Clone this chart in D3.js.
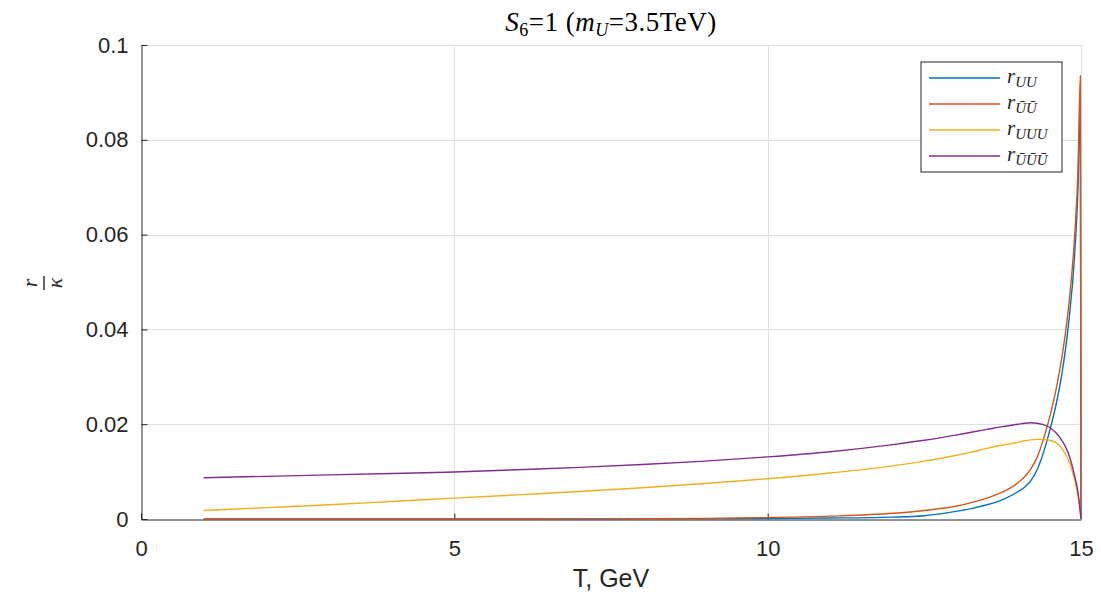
<!DOCTYPE html>
<html>
<head>
<meta charset="utf-8">
<script src="https://cdn.jsdelivr.net/npm/d3@7"></script>
<style>
  body { margin: 0; background: #fff; }
  svg { display: block; }
</style>
</head>
<body>
<div id="chart"></div>
<script>
// Layout
const width = 1101;
const height = 598;
const margin = { top: 45, right: 20, bottom: 79, left: 141 };

// Data
const temps = [1, 2, 3, 4, 5, 6, 7, 8, 9, 10, 11, 12, 12.5, 13, 13.25, 13.5, 13.75, 14, 14.1, 14.2, 14.3, 14.4, 14.5, 14.6, 14.7, 14.8, 14.9, 14.95, 14.99, 15];
const rUU = [0, 0, 0, 0, 0, 0, 0.00001, 0.00002, 0.00004, 0.0001, 0.0002, 0.0004, 0.0007, 0.0016, 0.0022, 0.0030, 0.0041, 0.0058, 0.0067, 0.0081, 0.0104, 0.0140, 0.0186, 0.0240, 0.0310, 0.0410, 0.0560, 0.0690, 0.088, 0];
const rUbUb = [0, 0, 0, 0, 0, 0.00001, 0.00002, 0.00004, 0.0001, 0.0003, 0.0006, 0.0012, 0.0018, 0.0027, 0.00345, 0.0044, 0.0057, 0.0077, 0.0089, 0.0106, 0.0130, 0.0168, 0.0215, 0.0272, 0.0345, 0.0445, 0.060, 0.073, 0.0935, 0];
const rUUU = [0.0018, 0.0024, 0.0030, 0.0037, 0.0044, 0.0051, 0.0058, 0.0066, 0.0075, 0.0085, 0.0097, 0.0112, 0.0122, 0.0134, 0.0141, 0.0149, 0.0156, 0.0162, 0.0165, 0.0167, 0.0168, 0.0168, 0.0166, 0.0161, 0.0148, 0.0124, 0.0082, 0.0050, 0.0012, 0];
const rUbUbUb = [0.0087, 0.0090, 0.0093, 0.0096, 0.0099, 0.0104, 0.0109, 0.0115, 0.0122, 0.0131, 0.0142, 0.0157, 0.0166, 0.0177, 0.0183, 0.0189, 0.0195, 0.0200, 0.0202, 0.0203, 0.0202, 0.0199, 0.0193, 0.0182, 0.0165, 0.0138, 0.0090, 0.0058, 0.0013, 0];
const xTicks = [0, 5, 10, 15];
const yTicks = [0, 0.02, 0.04, 0.06, 0.08, 0.1];

const series = [
  { sub: "UU", bar: false, values: rUU, color: "#0072BD" },
  { sub: "UU", bar: true, values: rUbUb, color: "#D95319" },
  { sub: "UUU", bar: false, values: rUUU, color: "#EDB120" },
  { sub: "UUU", bar: true, values: rUbUbUb, color: "#7E2F8E" }
];

const x = d3.scaleLinear().domain([0, 15]).range([margin.left, width - margin.right]);
const y = d3.scaleLinear().domain([0, 0.1]).range([height - margin.bottom, margin.top]);

const svg = d3.select("#chart").append("svg")
  .attr("width", width)
  .attr("height", height)
  .style("font-family", "Liberation Sans, Arial, sans-serif");

// grid
const grid = svg.append("g").attr("stroke", "#dedede").attr("stroke-width", 1);
grid.selectAll(".gx").data(xTicks.slice(1)).join("line")
  .attr("x1", d => Math.round(x(d)) + 0.5).attr("x2", d => Math.round(x(d)) + 0.5)
  .attr("y1", y(0)).attr("y2", y(0.1));
grid.selectAll(".gy").data(yTicks.slice(1)).join("line")
  .attr("x1", x(0)).attr("x2", x(15))
  .attr("y1", d => Math.round(y(d)) + 0.5).attr("y2", d => Math.round(y(d)) + 0.5);

// axes
const xAxis = svg.append("g")
  .attr("transform", `translate(0,${Math.round(y(0)) + 0.5})`)
  .call(d3.axisBottom(x).tickValues(xTicks).tickSizeInner(-6).tickSizeOuter(0).tickPadding(21).tickFormat(d3.format("d")));
const yAxis = svg.append("g")
  .attr("transform", `translate(${Math.round(x(0)) + 0.5},0)`)
  .call(d3.axisLeft(y).tickValues(yTicks).tickSizeInner(-6).tickSizeOuter(0).tickPadding(13).tickFormat(d => d === 0 ? "0" : d3.format("")(+d.toFixed(2))));
[xAxis, yAxis].forEach(a => {
  a.select(".domain").attr("stroke", "#262626");
  a.selectAll(".tick line").attr("stroke", "#262626");
  a.selectAll(".tick text").attr("fill", "#262626").style("font-size", "22px").style("font-family", "Liberation Sans, Arial, sans-serif");
});

// lines
const line = d3.line()
  .x((d, i) => x(temps[i]))
  .y(d => y(d))
  .curve(d3.curveMonotoneX);

svg.append("g").attr("fill", "none")
  .selectAll("path").data(series).join("path")
  .attr("stroke", d => d.color)
  .attr("stroke-width", 1.4)
  .attr("d", d => line(d.values));

// title
const title = svg.append("text")
  .attr("x", (x(0) + x(15)) / 2)
  .attr("y", 31)
  .attr("text-anchor", "middle")
  .style("font-family", "Liberation Serif, serif")
  .style("font-size", "27px")
  .style("letter-spacing", "0.5px")
  .attr("fill", "#000");
title.append("tspan").style("font-style", "italic").text("S");
title.append("tspan").attr("dy", 5).style("font-size", "18px").text("6");
title.append("tspan").attr("dy", -5).text("=1  (");
title.append("tspan").style("font-style", "italic").text("m");
title.append("tspan").attr("dy", 5).style("font-size", "18px").style("font-style", "italic").text("U");
title.append("tspan").attr("dy", -5).text("=3.5TeV)");

// x label
svg.append("text")
  .attr("x", (x(0) + x(15)) / 2)
  .attr("y", 587)
  .attr("text-anchor", "middle")
  .style("font-size", "25px")
  .attr("fill", "#262626")
  .text("T, GeV");

// y label: fraction r / kappa, rotated
const yl = svg.append("g")
  .attr("transform", `translate(44,283) rotate(-90)`)
  .style("font-family", "Liberation Serif, serif")
  .style("font-style", "italic")
  .style("font-size", "22px")
  .attr("fill", "#262626");
yl.append("text").attr("text-anchor", "middle").attr("y", -7).text("r");
yl.append("line").attr("x1", -7).attr("x2", 7).attr("y1", 0).attr("y2", 0)
  .attr("stroke", "#262626").attr("stroke-width", 1.4);
yl.append("text").attr("text-anchor", "middle").attr("y", 18).text("κ");

// legend
const legend = svg.append("g").attr("transform", "translate(921,62)");
legend.append("rect")
  .attr("width", 141).attr("height", 110)
  .attr("fill", "#fff").attr("stroke", "#262626").attr("stroke-width", 1);
const items = legend.selectAll(".item").data(series).join("g")
  .attr("transform", (d, i) => `translate(0,${16 + i * 26})`);
items.append("line")
  .attr("x1", 8).attr("x2", 79)
  .attr("stroke", d => d.color).attr("stroke-width", 1.4);
items.each(function(d) {
  const t = d3.select(this).append("text")
    .attr("x", 86).attr("y", 5)
    .style("font-family", "Liberation Serif, serif")
    .style("font-style", "italic")
    .style("font-size", "21px")
    .attr("fill", "#262626");
  t.append("tspan").text("r");
  const letter = d.bar ? "\u016A" : "U";
  t.append("tspan").attr("dy", 4).style("font-size", "15px")
    .text(letter.repeat(d.sub.length));
});
</script>
</body>
</html>
